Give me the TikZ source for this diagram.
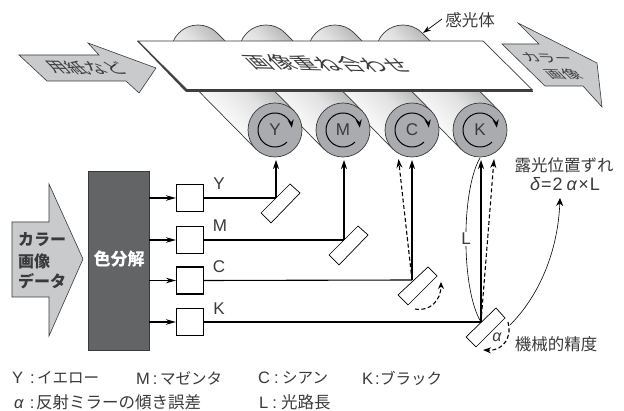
\documentclass[tikz,border=0pt]{standalone}
\usepackage{fontspec}
\setmainfont{Liberation Sans}
\newfontfamily\jp{Noto Sans CJK JP}
\usetikzlibrary{arrows.meta}
\definecolor{ink}{HTML}{3A3A3A}
\definecolor{rollgray}{HTML}{A9ABAE}
\definecolor{arrowgray}{HTML}{C9CACC}
\definecolor{sepgray}{HTML}{636466}
\definecolor{cyla}{HTML}{D0D0D0}
\definecolor{cylb}{HTML}{FFFFFF}
\definecolor{cylc}{HTML}{E2E2E2}
\definecolor{cyld}{HTML}{7C7C7E}
\pgfdeclareverticalshading{cylshade}{100bp}{
 color(0bp)=(cyla);
 color(25bp)=(cyla);
 color(36bp)=(cylb);
 color(52bp)=(cylc);
 color(75bp)=(cyld);
 color(100bp)=(cyld)}
\tikzset{
 lbl/.style={inner sep=0pt,text=ink,font=\fontsize{16.5}{18}\selectfont\jp},
 lat/.style={inner sep=0pt,text=ink,font=\fontsize{17}{18}\selectfont},
 legend/.style={inner sep=0pt,anchor=west,text=ink,font=\fontsize{16.5}{18}\selectfont},
 tipa/.style={-{Stealth[length=9pt,width=6pt]}},
 wire/.style={line width=1.1pt,black},
 thinline/.style={line width=0.6pt,black},
 dashwire/.style={line width=1.1pt,black,dash pattern=on 4pt off 2.5pt},
 smallbox/.style={draw=black,line width=1.1pt,fill=white,minimum width=27pt,minimum height=27pt,inner sep=0pt},
 mirror/.style={draw=black,line width=0.7pt,fill=white,line join=miter},
 bigarrow/.style={fill=arrowgray,draw=ink,line width=0.6pt,line join=miter},
 rollerface/.style={circle,draw=ink,line width=0.7pt,fill=rollgray,minimum size=54pt,inner sep=0pt,text=ink,font=\fontsize{17}{18}\selectfont}
}
\begin{document}
\begin{tikzpicture}[x=1pt,y=1pt]
\useasboundingbox (0,0) rectangle (624,-411);
\fill[white] (0,0) rectangle (624,-411);
\begin{scope}[yscale=-1]
% rollers
\foreach \n/\cx in {K/480,C/412,M/343,Y/275}{
  \path[shading=cylshade,shading angle=-45,draw=ink,line width=0.7pt]
    (\cx+19.09,130-19.09) -- (\cx-77+19.09,52-19.09)
    arc[start angle=-45,end angle=-225,radius=27]
    -- (\cx-19.09,130+19.09) -- cycle;
  \node[rollerface] (r\n) at (\cx,130) {\n};
  \draw[line width=1pt,black,-{Stealth[length=8pt,width=6pt]}] (\cx,130) ++(45:17) arc[start angle=45,end angle=352,radius=17];
}
% paper
\coordinate (pa) at (138,41); \coordinate (pb) at (483,41);
\coordinate (pc) at (532,89.5); \coordinate (pd) at (187,89.5);
\fill[black!75] (137,41) -- (186,92) -- (533,92) -- (532,89) -- cycle;
\draw[fill=white,draw=ink,line width=0.7pt,line join=miter] (pa) -- (pb) -- (pc) -- (pd) -- cycle;
% feed arrows
\draw[bigarrow] (19,55) -- (99,55) -- (88,43) -- (156,68) -- (139,93) -- (126,81) -- (47,81) -- cycle;
\draw[bigarrow] (518,23) -- (539,44) -- (502,44) -- (545,86) -- (583,86) -- (602,107) -- (597,63) -- cycle;
\draw[bigarrow] (12,222) -- (49,222) -- (49,184) -- (83,259) -- (49,336) -- (49,297) -- (12,297) -- cycle;
% separation
\node[fill=sepgray,draw=ink,line width=0.4pt,minimum width=61pt,minimum height=179pt,inner sep=0pt] (sep) at (118.5,260.5) {};
\node[inner sep=0pt,text=white,font=\fontsize{17}{18}\selectfont\jp\bfseries] (septext) at (119,259) {色分解};
\node[inner sep=0pt,anchor=west,text=ink,font=\fontsize{16}{18}\selectfont\jp\bfseries] (d1) at (18,240) {カラー};
\node[inner sep=0pt,anchor=west,text=ink,font=\fontsize{16}{18}\selectfont\jp\bfseries] (d2) at (18,261) {画像};
\node[inner sep=0pt,anchor=west,text=ink,font=\fontsize{16}{18}\selectfont\jp\bfseries] (d3) at (18,281) {データ};
% channel boxes
\node[smallbox] (bY) at (190,198) {};
\node[smallbox] (bM) at (190,240) {};
\node[smallbox] (bC) at (190,280.5) {};
\node[smallbox] (bK) at (190,322) {};
\foreach \c/\y in {Y/198,M/240,C/280.5,K/322}{
  \coordinate (s\c) at (149,\y);
  \draw[wire,-{Stealth[length=10pt,width=5.5pt]}] (s\c) -- (b\c.west);
}
\node[lat] (lY) at (219,184) {Y};
\node[lat] (lM) at (220,226) {M};
\node[lat] (lC) at (219,267) {C};
\node[lat] (lK) at (219,309) {K};
% hit points on mirrors
\coordinate (hY) at (276,198); \coordinate (hM) at (344,240);
\coordinate (hC) at (412,280); \coordinate (hK) at (481,322);
% mirrors
\draw[mirror] (290,184) -- (300,193) -- (271,223) -- (261,213) -- cycle;
\draw[mirror] (358,226) -- (368,235) -- (339,265) -- (329,255) -- cycle;
\draw[mirror] (428,267) -- (437,276) -- (408,305) -- (398,295) -- cycle;
\draw[mirror] (496,308) -- (505,318) -- (476,347) -- (466,337) -- cycle;
% beams
\draw[wire] (bY.east) -- (hY);
\draw[wire] (bM.east) -- (hM);
\draw[wire] (bC.east) -- (hC);
\draw[wire] (bK.east) -- (hK);
\coordinate (tY) at (276,160); \coordinate (tM) at (344,160);
\coordinate (tC) at (412,160); \coordinate (tK) at (481,160);
\coordinate (tC2) at (398.5,159); \coordinate (tK2) at (494,159);
\draw[wire,tipa] (hY) -- (tY);
\draw[wire,tipa] (hM) -- (tM);
\draw[wire,tipa] (hC) -- (tC);
\draw[wire,tipa] (hK) -- (tK);
\draw[dashwire,tipa] (hC) -- (tC2);
\draw[dashwire,tipa] (hK) -- (tK2);
% tilt arcs
\coordinate (ca) at (415,309); \coordinate (cb) at (441,282);
\draw[dashwire,-{Stealth[length=7pt,width=6pt]}] (ca) .. controls (430,312) and (441,300) .. (cb);
\coordinate (ka) at (508,322); \coordinate (kb) at (483,350);
\draw[dashwire,-{Stealth[length=8pt,width=6pt]}] (ka) .. controls (512,335) and (505,351) .. (kb);
\node[inner sep=0pt,text=ink,font=\fontsize{16}{18}\selectfont\itshape] (al) at (497,337) {α};
% L span
\coordinate (la) at (480,158);
\draw[thinline] (la) .. controls (461,190) and (461,290) .. (hK);
\node[fill=white,inner sep=1pt,text=ink,font=\fontsize{17}{18}\selectfont] (ll) at (466,239) {L};
% delta leader
\node[lbl] (dev) at (564,165) {露光位置ずれ};
\node[inner sep=0pt,text=ink,font=\fontsize{18}{18}\selectfont] (del) at (565,184) {\textit{δ}\hspace{1pt}=\hspace{1pt}2\hspace{4pt}\textit{α}\hspace{1pt}×\hspace{1pt}L};
\coordinate (da) at (510,325); \coordinate (db) at (560,198);
\draw[thinline,-{Stealth[length=8pt,width=7pt]}] (da) .. controls (540,295) and (558,250) .. (db);
\node[lbl] (mech) at (556,344) {機械的精度};
% sensor label
\node[lbl] (pclabel) at (470,20) {感光体};
\coordinate (ps) at (442,19); \coordinate (pt) at (423,33);
\draw[line width=0.7pt,black,-{Stealth[length=8pt,width=5pt]}] (ps) -- (pt);
% legend
\node[legend] (k1) at (12,378) {\makebox[25pt][l]{Y\hspace{7pt}:}{\jp\fontsize{15.5}{18}\selectfont イエロー}};
\node[legend] (k2) at (136,378) {\makebox[24pt][l]{M\hspace{3pt}:}{\jp\fontsize{15.5}{18}\selectfont マゼンタ}};
\node[legend] (k3) at (258,378) {\makebox[24pt][l]{C\hspace{4pt}:}{\jp\fontsize{15.5}{18}\selectfont シアン}};
\node[legend] (k4) at (362,378) {\makebox[18pt][l]{K\hspace{2pt}:}{\jp\fontsize{15.5}{18}\selectfont ブラック}};
\node[legend] (k5) at (14,402) {\makebox[22pt][l]{\textit{α}\hspace{6pt}:}{\jp 反射ミラーの傾き誤差}};
\node[legend] (k6) at (259,402) {\makebox[22pt][l]{L\hspace{4pt}:}{\jp 光路長}};
\end{scope}
% sheared lettering
\begin{scope}[cm={1.15,-0.03,-0.85,0.85,(328,-64)}]
\node[transform shape,inner sep=0pt,text=ink,font=\fontsize{20}{22}\selectfont\jp] (title) at (0,0) {画像重ね合わせ};
\end{scope}
\begin{scope}[cm={0.95,-0.02,-0.75,0.75,(86,-68)}]
\node[transform shape,inner sep=0pt,text=ink,font=\fontsize{20}{22}\selectfont\jp] (inlab) at (0,0) {用紙など};
\end{scope}
\begin{scope}[cm={1.0,-0.02,-0.72,0.72,(547,-58)}]
\node[transform shape,inner sep=0pt,text=ink,font=\fontsize{16}{16}\selectfont\jp] (outa) at (0,0) {カラー};
\end{scope}
\begin{scope}[cm={1.05,-0.02,-0.72,0.72,(563,-74)}]
\node[transform shape,inner sep=0pt,text=ink,font=\fontsize{16}{16}\selectfont\jp] (outb) at (0,0) {画像};
\end{scope}
\end{tikzpicture}
\end{document}
